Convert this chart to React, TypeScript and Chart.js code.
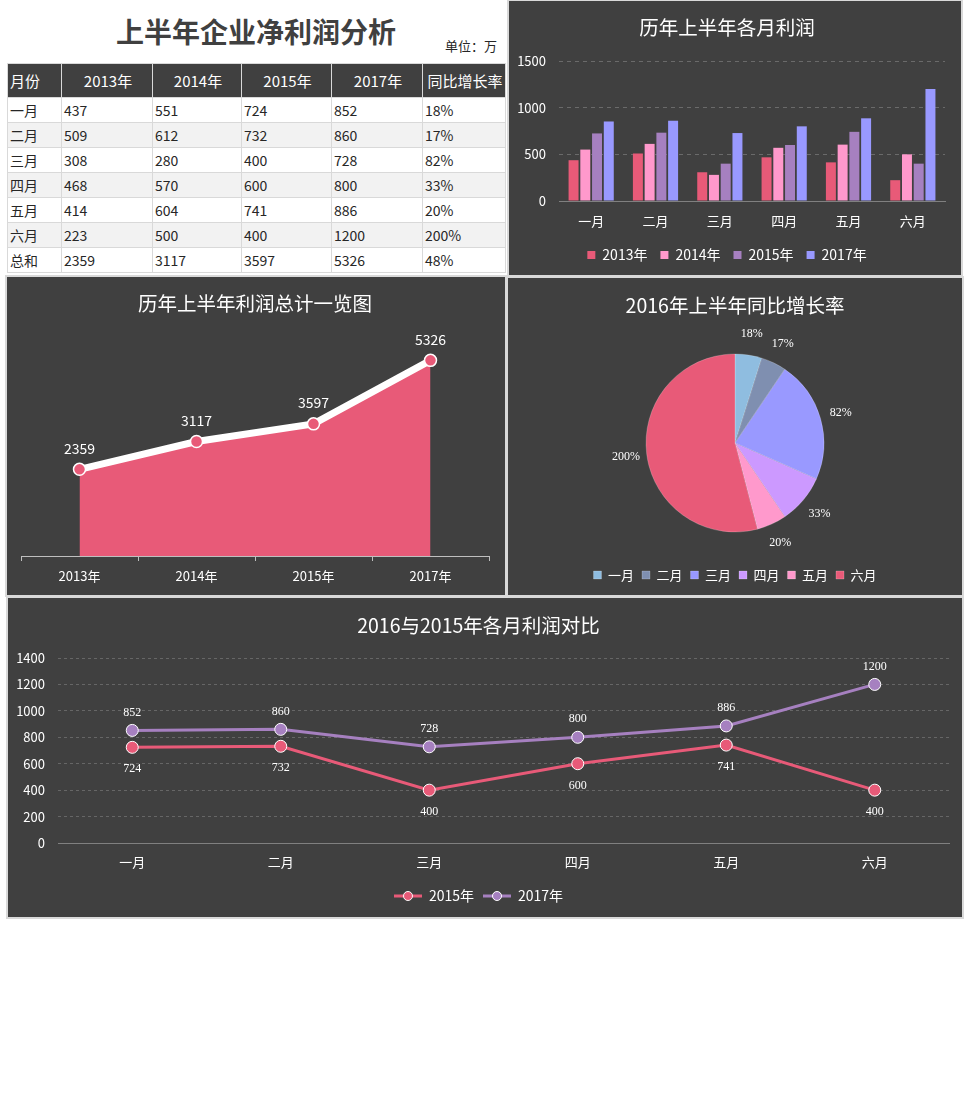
import React, { useEffect, useRef } from 'react';
import { Chart, registerables } from 'chart.js';

Chart.register(...registerables);

const FONT = '"Noto Sans CJK SC", "Noto Sans", sans-serif';
const SERIF = '"Liberation Serif", "DejaVu Serif", serif';

// ---- data ----
const months = ['一月', '二月', '三月', '四月', '五月', '六月'];
const years = ['2013年', '2014年', '2015年', '2017年'];
const profit2013 = [437, 509, 308, 468, 414, 223];
const profit2014 = [551, 612, 280, 570, 604, 500];
const profit2015 = [724, 732, 400, 600, 741, 400];
const profit2017 = [852, 860, 728, 800, 886, 1200];
const growthRate = [18, 17, 82, 33, 20, 200];
const yearTotals = [2359, 3117, 3597, 5326];
const totalGrowth = 48;

// ---- colours ----
const RED = '#e85a78';
const PINK = '#ff99cc';
const PURPLE = '#a680c0';
const BLUE = '#9999ff';
const LIGHTBLUE = '#8fbde0';
const SLATE = '#7f8fb0';
const LILAC = '#cc99ff';
const PANEL_BG = '#404040';
const BORDER = '#d9d9d9';

const barSeries = [profit2013, profit2014, profit2015, profit2017];
const barColors = [RED, PINK, PURPLE, BLUE];
const pieColors = [LIGHTBLUE, SLATE, BLUE, LILAC, PINK, RED];

const titleFont = { family: FONT, size: 19.5, weight: 'normal' as const };
const plainTick = (v: any) => String(v);

function pointLabelPlugin(font: string, offsets: number[]) {
  return {
    id: 'pointLabels',
    afterDatasetsDraw(chart: any) {
      const ctx = chart.ctx;
      ctx.save();
      ctx.fillStyle = '#ffffff';
      ctx.font = font;
      ctx.textAlign = 'center';
      ctx.textBaseline = 'middle';
      chart.data.datasets.forEach((ds: any, di: number) => {
        const meta = chart.getDatasetMeta(di);
        meta.data.forEach((el: any, i: number) => {
          ctx.fillText(String(ds.data[i]), el.x, el.y + offsets[di]);
        });
      });
      ctx.restore();
    },
  };
}

const pieLabelPlugin = {
  id: 'pieLabels',
  afterDatasetsDraw(chart: any) {
    const ctx = chart.ctx;
    ctx.save();
    ctx.fillStyle = '#ffffff';
    ctx.font = `12px ${SERIF}`;
    ctx.textAlign = 'center';
    ctx.textBaseline = 'middle';
    const meta = chart.getDatasetMeta(0);
    meta.data.forEach((arc: any, i: number) => {
      const p = arc.getProps(['x', 'y', 'startAngle', 'endAngle', 'outerRadius'], true);
      const mid = (p.startAngle + p.endAngle) / 2;
      const r = p.outerRadius + 21;
      ctx.fillText(growthRate[i] + '%', p.x + Math.cos(mid) * r, p.y + Math.sin(mid) * r);
    });
    ctx.restore();
  },
};

function lineMarker(color: string) {
  const c = document.createElement('canvas');
  c.width = 28;
  c.height = 12;
  const g = c.getContext('2d')!;
  g.strokeStyle = color;
  g.lineWidth = 3;
  g.beginPath();
  g.moveTo(0, 6);
  g.lineTo(28, 6);
  g.stroke();
  g.beginPath();
  g.arc(14, 6, 4.5, 0, Math.PI * 2);
  g.fillStyle = color;
  g.fill();
  g.strokeStyle = '#ffffff';
  g.lineWidth = 1;
  g.stroke();
  return c;
}

function barConfig(): any {
  return {
    type: 'bar',
    data: {
      labels: months,
      datasets: years.map((y, i) => ({
        label: y,
        data: barSeries[i],
        backgroundColor: barColors[i],
        categoryPercentage: 0.73,
        barPercentage: 0.85,
      })),
    },
    options: {
      responsive: false,
      animation: false,
      layout: { padding: { left: 0, right: 16, top: 0, bottom: 3 } },
      plugins: {
        title: { display: true, text: '历年上半年各月利润', color: '#ffffff', font: titleFont, padding: { top: 15.3, bottom: 21.3 } },
        legend: {
          position: 'bottom',
          labels: { color: '#ffffff', font: { family: FONT, size: 14 }, boxWidth: 8, boxHeight: 8, padding: 13 },
        },
        tooltip: { enabled: false },
      },
      scales: {
        x: {
          grid: { display: false, drawTicks: false },
          border: { display: true, color: '#808080' },
          ticks: { color: '#ffffff', font: { family: FONT, size: 13 }, padding: 12 },
          afterFit: (s: any) => { s.height = 34; },
        },
        y: {
          min: 0,
          max: 1500,
          ticks: { stepSize: 500, color: '#ffffff', font: { family: FONT, size: 13 }, padding: 13, callback: plainTick },
          grid: { color: (c: any) => (c.tick && c.tick.value === 0 ? 'rgba(0,0,0,0)' : '#6a6a6a'), drawTicks: false },
          border: { display: false, dash: [4, 4] },
          afterFit: (s: any) => { s.width = 50; },
        },
      },
    },
  };
}

function areaConfig(): any {
  return {
    type: 'line',
    data: {
      labels: years,
      datasets: [
        {
          label: '利润总计',
          data: yearTotals,
          fill: 'origin',
          backgroundColor: RED,
          borderColor: '#ffffff',
          borderWidth: 7,
          pointRadius: 6,
          pointBackgroundColor: RED,
          pointBorderColor: '#ffffff',
          pointBorderWidth: 1.5,
          tension: 0,
        },
      ],
    },
    options: {
      responsive: false,
      animation: false,
      layout: { padding: { left: 14, right: 16, top: 0, bottom: 0 } },
      plugins: {
        title: { display: true, text: '历年上半年利润总计一览图', color: '#ffffff', font: titleFont, padding: { top: 14.8, bottom: 20.4 } },
        legend: { display: false },
        tooltip: { enabled: false },
      },
      scales: {
        x: {
          offset: true,
          grid: { display: true, offset: true, drawOnChartArea: false, drawTicks: true, tickLength: 5, color: '#bfbfbf' },
          border: { display: true, color: '#bfbfbf' },
          ticks: { color: '#ffffff', font: { family: FONT, size: 13 }, padding: 7 },
          afterFit: (s: any) => { s.height = 39; },
        },
        y: { display: false, min: 0, max: 6000 },
      },
    },
    plugins: [pointLabelPlugin(`14px ${FONT}`, [-21])],
  };
}

function pieConfig(): any {
  return {
    type: 'pie',
    data: {
      labels: months,
      datasets: [
        {
          data: growthRate,
          backgroundColor: pieColors,
          borderColor: 'rgba(255,255,255,0.35)',
          borderWidth: 0.6,
          radius: 89,
        },
      ],
    },
    options: {
      responsive: false,
      animation: false,
      radius: 89,
      layout: { padding: { left: 0, right: 0, top: 0, bottom: 3.5 } },
      plugins: {
        title: { display: true, text: '2016年上半年同比增长率', color: '#ffffff', font: titleFont, padding: { top: 16.3, bottom: 7.8 } },
        legend: {
          position: 'bottom',
          labels: { color: '#ffffff', font: { family: FONT, size: 13 }, boxWidth: 8, boxHeight: 8, padding: 8 },
        },
        tooltip: { enabled: false },
      },
    },
    plugins: [pieLabelPlugin],
  };
}

function lineConfig(): any {
  const lineColors = [RED, PURPLE];
  const markers = lineColors.map((c) => lineMarker(c));
  const labels = ['2015年', '2017年'];
  const series = [profit2015, profit2017];
  return {
    type: 'line',
    data: {
      labels: months,
      datasets: series.map((d, i) => ({
        label: labels[i],
        data: d,
        borderColor: lineColors[i],
        backgroundColor: lineColors[i],
        borderWidth: 3,
        pointRadius: 6,
        pointBackgroundColor: lineColors[i],
        pointBorderColor: '#ffffff',
        pointBorderWidth: 1,
        tension: 0,
        fill: false,
      })),
    },
    options: {
      responsive: false,
      animation: false,
      layout: { padding: { left: 0, right: 13, top: 0, bottom: 4 } },
      plugins: {
        title: { display: true, text: '2016与2015年各月利润对比', color: '#ffffff', font: titleFont, padding: { top: 16.3, bottom: 20.3 } },
        legend: {
          position: 'bottom',
          labels: {
            color: '#ffffff',
            font: { family: FONT, size: 14 },
            usePointStyle: true,
            pointStyleWidth: 28,
            padding: 9,
            generateLabels: (chart: any) =>
              chart.data.datasets.map((ds: any, i: number) => ({
                text: ds.label,
                fillStyle: lineColors[i],
                strokeStyle: lineColors[i],
                lineWidth: 0,
                pointStyle: markers[i],
                hidden: false,
                datasetIndex: i,
                fontColor: '#ffffff',
              })),
          },
        },
        tooltip: { enabled: false },
      },
      scales: {
        x: {
          offset: true,
          grid: { display: false, drawTicks: false },
          border: { display: true, color: '#808080' },
          ticks: { color: '#ffffff', font: { family: FONT, size: 13 }, padding: 11.2 },
          afterFit: (s: any) => { s.height = 37; },
        },
        y: {
          min: 0,
          max: 1400,
          ticks: { stepSize: 200, color: '#ffffff', font: { family: FONT, size: 13 }, padding: 13, callback: plainTick },
          grid: { color: (c: any) => (c.tick && c.tick.value === 0 ? 'rgba(0,0,0,0)' : '#666666'), drawTicks: false },
          border: { display: false, dash: [3, 3] },
          afterFit: (s: any) => { s.width = 50; },
        },
      },
    },
    plugins: [pointLabelPlugin(`12px ${SERIF}`, [22, -18])],
  };
}

function ChartBox(props: { left: number; top: number; width: number; height: number; config: () => any }) {
  const { left, top, width, height, config } = props;
  const ref = useRef<HTMLCanvasElement>(null);
  useEffect(() => {
    const chart = new Chart(ref.current as HTMLCanvasElement, config());
    return () => chart.destroy();
  }, []);
  return (
    <div
      style={{
        position: 'absolute',
        left,
        top,
        width,
        height,
        background: PANEL_BG,
        outline: `2px solid ${BORDER}`,
      }}
    >
      <canvas ref={ref} width={width} height={height} style={{ display: 'block', width, height }} />
    </div>
  );
}

const colWidths = [54, 91, 89, 90, 91, 83];
const headerCells = ['月份', ...years, '同比增长率'];
const tableRows: (string | number)[][] = months.map((m, i) => [
  m,
  profit2013[i],
  profit2014[i],
  profit2015[i],
  profit2017[i],
  growthRate[i] + '%',
]);
tableRows.push(['总和', ...yearTotals, totalGrowth + '%']);

function DataTable() {
  return (
    <table
      style={{
        position: 'absolute',
        left: 7,
        top: 63,
        width: 499,
        borderCollapse: 'collapse',
        tableLayout: 'fixed',
        fontFamily: FONT,
      }}
    >
      <colgroup>
        {colWidths.map((w, i) => (
          <col key={i} style={{ width: w }} />
        ))}
      </colgroup>
      <thead>
        <tr style={{ height: 34 }}>
          {headerCells.map((h, i) => (
            <th
              key={i}
              style={{
                background: PANEL_BG,
                color: '#ffffff',
                fontWeight: 'normal',
                fontSize: 15,
                textAlign: i === 0 ? 'left' : 'center',
                padding: '0 0 0 2px',
                border: `1px solid ${BORDER}`,
                whiteSpace: 'nowrap',
                overflow: 'hidden',
              }}
            >
              {h}
            </th>
          ))}
        </tr>
      </thead>
      <tbody>
        {tableRows.map((row, ri) => (
          <tr key={ri} style={{ height: 25, background: ri % 2 === 1 ? '#f2f2f2' : '#ffffff' }}>
            {row.map((cell, ci) => (
              <td
                key={ci}
                style={{
                  fontSize: 14,
                  color: '#262626',
                  padding: '0 0 0 2px',
                  border: `1px solid ${BORDER}`,
                  lineHeight: '23px',
                  whiteSpace: 'nowrap',
                }}
              >
                {cell}
              </td>
            ))}
          </tr>
        ))}
      </tbody>
    </table>
  );
}

export default function App() {
  return (
    <div
      style={{
        position: 'absolute',
        left: 0,
        top: 0,
        width: 968,
        height: 1101,
        background: '#ffffff',
        overflow: 'hidden',
        fontFamily: FONT,
      }}
    >
      <div
        style={{
          position: 'absolute',
          left: 0,
          top: 17,
          width: 512,
          height: 28,
          lineHeight: '28px',
          textAlign: 'center',
          fontSize: 28,
          fontWeight: 'bold',
          color: '#404040',
        }}
      >
        上半年企业净利润分析
      </div>
      <div
        style={{
          position: 'absolute',
          left: 445,
          top: 39,
          height: 14,
          lineHeight: '14px',
          fontSize: 13,
          color: '#262626',
          whiteSpace: 'nowrap',
        }}
      >
        单位：万
      </div>
      <DataTable />
      <ChartBox left={509} top={1} width={452} height={274} config={barConfig} />
      <ChartBox left={7} top={277} width={498} height={318} config={areaConfig} />
      <ChartBox left={508} top={278} width={454} height={317} config={pieConfig} />
      <ChartBox left={8} top={598} width={954} height={319} config={lineConfig} />
    </div>
  );
}
